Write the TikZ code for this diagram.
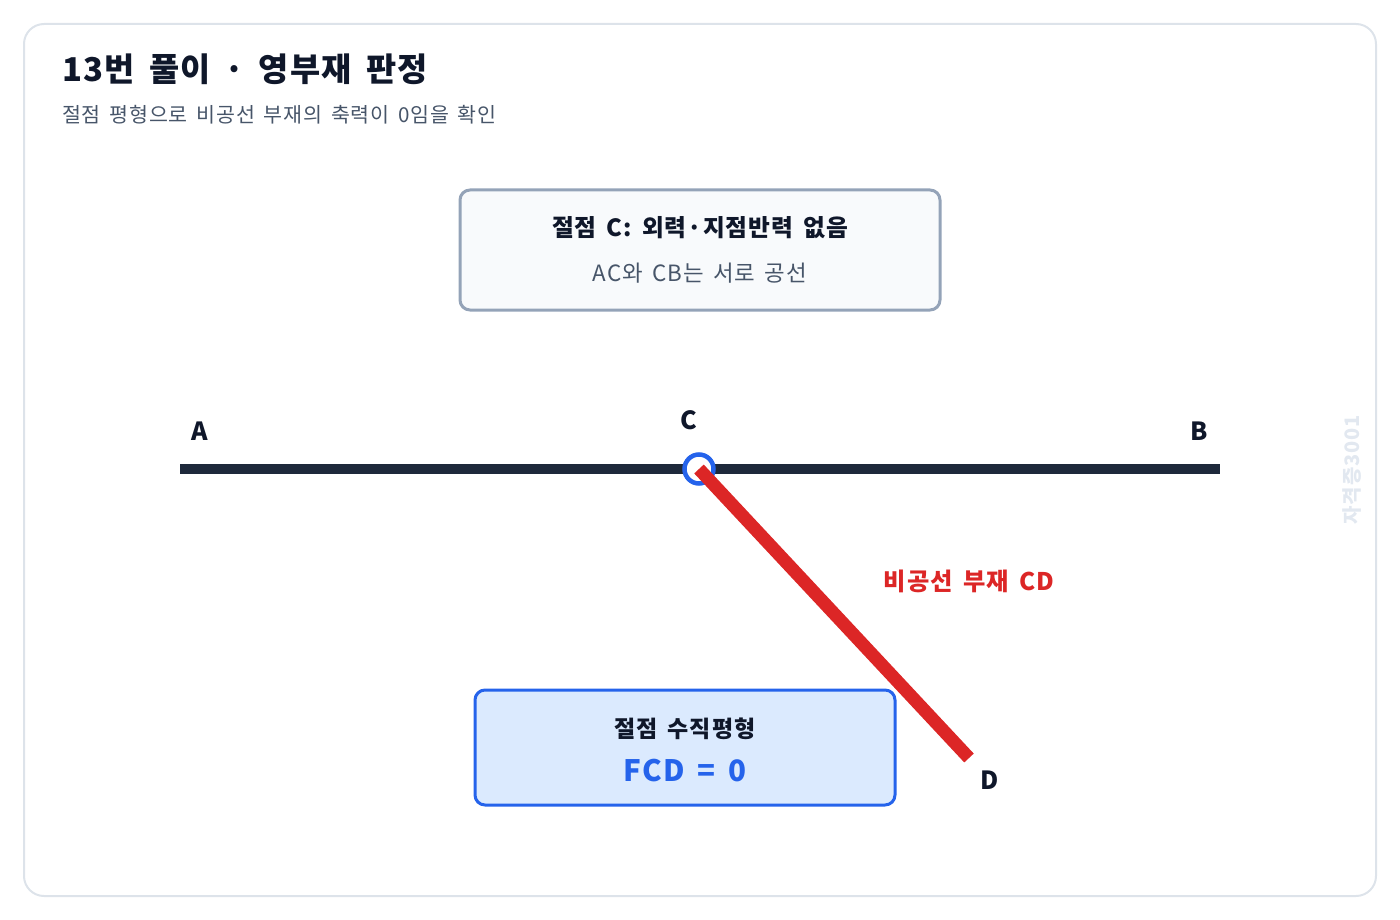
\documentclass[tikz,border=0pt]{standalone}
\usepackage{fontspec}
\setmainfont{Noto Sans CJK KR}[WordSpace=1.6, LetterSpace=4]
\definecolor{frame}{HTML}{DDE3EA}
\definecolor{ink}{HTML}{0F172A}
\definecolor{beam}{HTML}{1E293B}
\definecolor{sub}{HTML}{475569}
\definecolor{boxfill}{HTML}{F8FAFC}
\definecolor{boxline}{HTML}{94A3B8}
\definecolor{blue}{HTML}{2563EB}
\definecolor{bluefill}{HTML}{DBEAFE}
\definecolor{red}{HTML}{DC2626}
\definecolor{wm}{HTML}{E2E8F0}
\tikzset{
  lbl/.style={font=\fontsize{25}{28}\selectfont\bfseries, text=ink, inner sep=0pt},
  infobox/.style={rounded corners=10pt, line width=3pt},
}
\begin{document}
\begin{tikzpicture}[x=1pt,y=-1pt]
\useasboundingbox (0,0) rectangle (1400,920);
\draw[frame, line width=2pt, rounded corners=20pt] (24,24) rectangle (1376,896);
% title
\node[anchor=base west, inner sep=0pt, text=ink, font=\fontsize{32.8}{36}\selectfont\bfseries] (title) at (62,82) {13번 풀이 · 영부재 판정};
\node[anchor=base west, inner sep=0pt, text=sub, font=\fontsize{20.6}{24}\selectfont] (subtitle) at (62,123) {절점 평형으로 비공선 부재의 축력이 0임을 확인};
% top box
\draw[infobox, fill=boxfill, draw=boxline] (460,190) rectangle (940,310);
\node[inner sep=0pt, text=ink, font=\fontsize{23.7}{26}\selectfont\bfseries] (t1) at (700,228) {절점 C: 외력·지점반력 없음};
\node[inner sep=0pt, text=sub, font=\fontsize{22.4}{24}\selectfont] (t2) at (700,273) {AC와 CB는 서로 공선};
% beam
\coordinate (A) at (180,469);
\coordinate (B) at (1220,469);
\coordinate (C) at (699,469);
\coordinate (D) at (969,758);
\draw[beam, line width=10pt] (A) -- (B);
\node[lbl] (la) at (200,431) {A};
\node[lbl] (lc) at (689,420) {C};
\node[lbl] (lb) at (1199,431) {B};
\node[circle, draw=blue, fill=white, line width=4.5pt, minimum size=29pt, inner sep=0pt] (joint) at (C) {};
\draw[red, line width=13pt] (C) -- (D);
\node[lbl] (ld) at (990,780) {D};
\node[inner sep=0pt, text=red, font=\fontsize{24.3}{26}\selectfont\bfseries] (lcd) at (969,581) {비공선 부재 CD};
% bottom box
\draw[infobox, fill=bluefill, draw=blue] (475,690) rectangle (895,805);
\node[inner sep=0pt, text=ink, font=\fontsize{23}{26}\selectfont\bfseries] (b1) at (685,729) {절점 수직평형};
\node[inner sep=0pt, text=blue, font=\fontsize{29.5}{34}\selectfont\bfseries] (b2) at (685,771) {FCD = 0};
% watermark
\node[rotate=90, inner sep=0pt, text=wm, font=\fontsize{20}{22}\selectfont\bfseries] (wmk) at (1352,470) {자격증3001};
\end{tikzpicture}
\end{document}
